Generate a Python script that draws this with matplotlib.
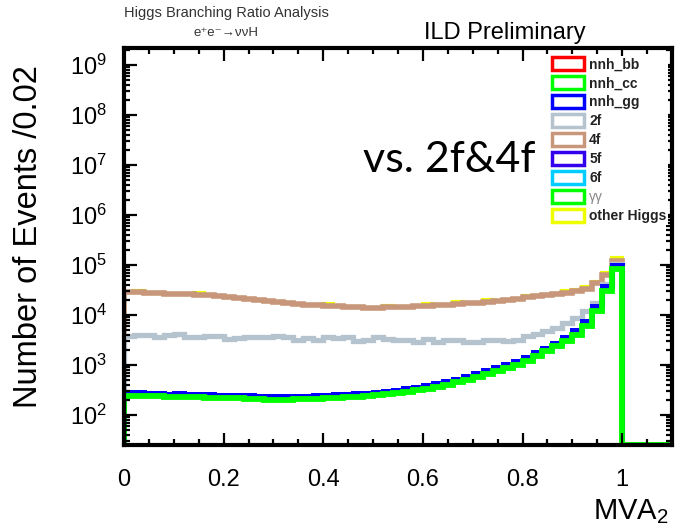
import matplotlib.pyplot as plt
import numpy as np
from matplotlib.patches import Patch
from matplotlib.ticker import LogLocator, MultipleLocator, FixedLocator, FixedFormatter, NullFormatter

plt.rcParams['font.family'] = ['Liberation Sans', 'DejaVu Sans']
plt.rcParams['mathtext.fontset'] = 'custom'
plt.rcParams['mathtext.rm'] = 'Liberation Sans'
plt.rcParams['mathtext.it'] = 'Liberation Sans:italic'

# bin edges of MVA2, width 0.02
edges = np.round(np.arange(56) * 0.02, 2)

# log10 of the stacked heights (bins 0.00 .. 1.00), empty above 1.0
lg_cc = [2.38, 2.38, 2.37, 2.37, 2.36, 2.36, 2.35, 2.35, 2.34, 2.34,
         2.33, 2.33, 2.32, 2.31, 2.30, 2.30, 2.30, 2.31, 2.31, 2.32,
         2.33, 2.34, 2.35, 2.36, 2.37, 2.39, 2.41, 2.43, 2.46, 2.49,
         2.52, 2.56, 2.60, 2.65, 2.70, 2.76, 2.82, 2.88, 2.94, 3.00,
         3.08, 3.18, 3.27, 3.37, 3.48, 3.60, 3.78, 4.08, 4.48, 4.93]
lg_gg = [2.45, 2.45, 2.44, 2.44, 2.42, 2.43, 2.42, 2.42, 2.41, 2.40,
         2.40, 2.40, 2.39, 2.38, 2.37, 2.37, 2.37, 2.37, 2.38, 2.39,
         2.40, 2.41, 2.42, 2.43, 2.44, 2.46, 2.48, 2.50, 2.53, 2.56,
         2.59, 2.63, 2.67, 2.72, 2.77, 2.83, 2.89, 2.95, 3.01, 3.07,
         3.15, 3.25, 3.34, 3.44, 3.56, 3.70, 3.88, 4.18, 4.58, 5.00]
lg_2f = [3.58, 3.60, 3.60, 3.55, 3.60, 3.62, 3.55, 3.55, 3.58, 3.58,
         3.52, 3.53, 3.55, 3.55, 3.56, 3.58, 3.55, 3.50, 3.53, 3.50,
         3.55, 3.53, 3.55, 3.48, 3.50, 3.55, 3.52, 3.50, 3.50, 3.45,
         3.52, 3.45, 3.50, 3.50, 3.45, 3.45, 3.50, 3.50, 3.48, 3.50,
         3.57, 3.62, 3.67, 3.73, 3.83, 3.93, 4.08, 4.24, 4.62, 5.03]
lg_4f = [4.45, 4.45, 4.44, 4.44, 4.42, 4.41, 4.41, 4.40, 4.40, 4.38,
         4.36, 4.34, 4.32, 4.30, 4.28, 4.26, 4.24, 4.22, 4.20, 4.19,
         4.18, 4.17, 4.16, 4.15, 4.14, 4.14, 4.15, 4.15, 4.16, 4.17,
         4.18, 4.19, 4.20, 4.22, 4.23, 4.24, 4.26, 4.28, 4.29, 4.31,
         4.35, 4.37, 4.39, 4.41, 4.44, 4.47, 4.52, 4.63, 4.80, 5.08]
lg_all = [4.45, 4.48, 4.44, 4.44, 4.42, 4.41, 4.41, 4.43, 4.40, 4.38,
          4.36, 4.34, 4.32, 4.30, 4.28, 4.26, 4.24, 4.22, 4.20, 4.19,
          4.21, 4.17, 4.16, 4.15, 4.14, 4.14, 4.18, 4.15, 4.16, 4.17,
          4.21, 4.19, 4.20, 4.25, 4.23, 4.24, 4.29, 4.28, 4.29, 4.31,
          4.38, 4.37, 4.39, 4.41, 4.47, 4.50, 4.55, 4.66, 4.83, 5.14]

labels = ['nnh_bb', 'nnh_cc', 'nnh_gg', '2f', '4f', '5f', '6f', 'γγ', 'other Higgs']
colors = ['#ff0000', '#00ff00', '#0000ff', '#b4c3cd', '#c8967a', '#3300ee', '#00ccff', '#00ff00', '#eeff00']

ymin, ymax = 25, 2.2e9

fig = plt.figure(figsize=(6.77, 5.27), dpi=100)
ax = fig.add_axes([0.1832, 0.1556, 0.8094, 0.7533])
ax.set_yscale('log')

def counts(lg):
    v = np.zeros(len(edges) - 1)
    v[:len(lg)] = 10 ** np.array(lg)
    return np.where(v > 0, v, ymin)

# drawn from the top of the stack down, like ROOT does
ax.stairs(counts(lg_all), edges, baseline=ymin, color=colors[8], lw=3)
ax.stairs(counts(lg_4f), edges, baseline=ymin, color=colors[4], lw=4)
ax.stairs(counts(lg_2f), edges, baseline=ymin, color=colors[3], lw=3.8)
ax.stairs(counts(lg_gg), edges, baseline=ymin, color=colors[2], lw=3.6)
ax.stairs(counts(lg_cc), edges, baseline=ymin, color=colors[1], lw=4.2)

ax.set_xlim(0, 1.1)
ax.set_ylim(ymin, ymax)

for s in ax.spines.values():
    s.set_linewidth(3)
ax.xaxis.set_major_locator(FixedLocator([0, 0.2, 0.4, 0.6, 0.8, 1.0]))
ax.xaxis.set_major_formatter(FixedFormatter(['0', '0.2', '0.4', '0.6', '0.8', '1']))
ax.xaxis.set_minor_locator(MultipleLocator(0.05))
ax.yaxis.set_major_locator(FixedLocator([1e2, 1e3, 1e4, 1e5, 1e6, 1e7, 1e8, 1e9]))
ax.yaxis.set_minor_locator(LogLocator(base=10, subs=np.arange(2, 10), numticks=20))
ax.yaxis.set_minor_formatter(NullFormatter())
ax.tick_params(which='both', direction='in', top=True, right=True, width=1.6, labelsize=17)
ax.tick_params(which='major', length=9)
ax.tick_params(which='minor', length=4.5)
ax.tick_params(axis='x', pad=17)
ax.tick_params(axis='y', pad=12)

fig.text(29 / 677, 0.552, 'Number of Events /0.02', rotation=90, ha='center', va='center', fontsize=23.5)
fig.text(0.988, 1 - 519 / 527, 'MVA$_2$', ha='right', va='baseline', fontsize=21)
fig.text(226 / 677, 1 - 13 / 527, 'Higgs Branching Ratio Analysis', ha='center', va='center', fontsize=10.5, color='#333333')
fig.text(226 / 677, 1 - 33 / 527, 'e⁺e⁻→ννH', ha='center', va='center', fontsize=9.5, color='#333333')
fig.text(505 / 677, 1 - 33 / 527, 'ILD Preliminary', ha='center', va='center', fontsize=17)
fig.text(449 / 677, 1 - 160 / 527, 'vs. 2f&4f', ha='center', va='center', fontsize=31, family='Lato')

handles = [Patch(facecolor='white', edgecolor=c, lw=2.5) for c in colors]
leg = ax.legend(handles, labels, loc='upper left', bbox_to_anchor=(551 / 677, 1 - 56 / 527),
                bbox_transform=fig.transFigure, frameon=True, fancybox=False, framealpha=1,
                edgecolor='none', facecolor='white', borderpad=0.1, borderaxespad=0,
                handlelength=2.3, handleheight=1.0, handletextpad=0.35, labelspacing=0.36,
                prop={'size': 10, 'weight': 'bold'})
for t in leg.get_texts():
    t.set_color('#222222')
leg.get_texts()[7].set_fontweight('normal')
leg.get_texts()[7].set_color('#888888')
leg.set_zorder(10)

fig.savefig('out.png', dpi=100)
